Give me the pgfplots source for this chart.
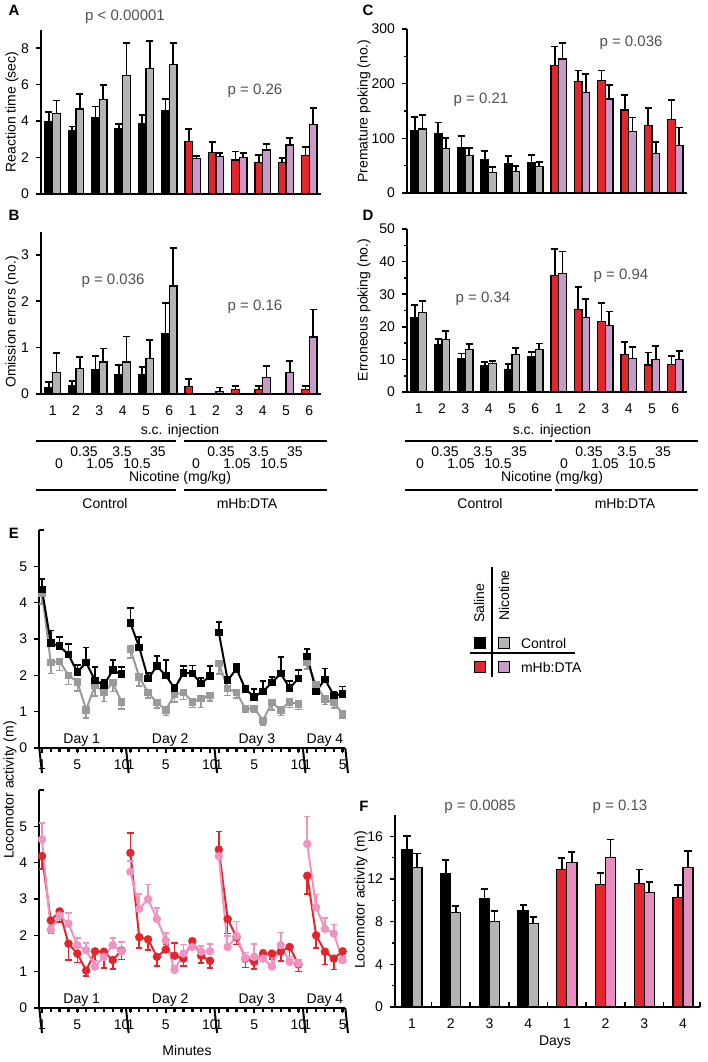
\documentclass[border=0pt]{standalone}
\usepackage{fontspec}
\setmainfont{Liberation Sans}
\usepackage{pgfplots}
\usepackage{pgfplotstable}
\pgfplotsset{compat=1.18}

\definecolor{cred}{HTML}{E3262B}
\definecolor{clav}{HTML}{C99AC9}
\definecolor{cgrey}{HTML}{B4B4B4}
\definecolor{cpink}{HTML}{E98DC0}
\definecolor{lpink}{HTML}{F093C3}
\definecolor{lgrey}{HTML}{9A9A9A}
\definecolor{ptext}{HTML}{505050}

% bar panels: x = group, s/se = saline mean/error, n/ne = nicotine mean/error
\pgfplotstableread{
x s se n ne
1 3.97 0.55 4.43 0.70
2 3.48 0.22 4.67 0.82
3 4.21 0.59 5.20 0.79
4 3.57 0.28 6.50 1.78
5 3.88 0.46 6.87 1.54
6 4.58 0.62 7.09 1.19
7 2.88 0.69 1.96 0.13
8 2.29 0.55 2.05 0.18
9 1.87 0.46 2.01 0.22
10 1.74 0.40 2.42 0.33
11 1.74 0.22 2.69 0.37
12 2.11 0.45 3.83 0.91
}\tabA
\pgfplotstableread{
x s se n ne
1 0.14 0.12 0.47 0.41
2 0.19 0.09 0.55 0.25
3 0.53 0.29 0.69 0.29
4 0.42 0.20 0.69 0.55
5 0.42 0.16 0.76 0.40
6 1.30 0.66 2.33 0.82
7 0.17 0.15 nan 0
8 nan 0 0.06 0.08
9 0.09 0.08 nan 0
10 0.09 0.08 0.35 0.25
11 nan 0 0.46 0.25
12 0.09 0.08 1.23 0.59
}\tabB
\pgfplotstableread{
x s se n ne
1 115 24 117 26
2 109 20 82 18
3 83 21 68 14
4 61 16 38 10
5 54 14 39 10
6 56 13 48 9
7 233 35 245 29
8 204 20 184 34
9 206 18 172 26
10 152 28 113 25
11 124 32 72 22
12 134 36 87 33
}\tabC
\pgfplotstableread{
x s se n ne
1 22.8 3.9 24.5 3.5
2 14.4 1.9 16.2 2.6
3 10.1 1.7 13.1 1.6
4 8.1 1.2 8.8 0.8
5 7.0 1.5 11.6 2.0
6 10.8 1.4 13.1 1.8
7 35.7 8.1 36.3 6.8
8 25.4 6.7 22.8 5.7
9 21.6 5.6 20.4 4.3
10 11.6 3.8 10.3 3.4
11 8.3 3.8 10.0 4.2
12 8.5 2.6 10.0 2.6
}\tabD
\pgfplotstableread{
x s se n ne
1 14.8 1.2 13.05 1.35
2 12.5 1.3 8.85 0.65
3 10.2 0.9 8.0 1.0
4 9.03 0.5 7.85 0.6
5 12.9 1.1 13.55 0.95
6 11.5 1.1 14.0 1.7
7 11.6 1.3 10.75 1.0
8 10.28 1.15 13.05 1.55
}\tabF

% panel E: x = 10*(day-1) + (minute-1), nan rows break the line between days
\pgfplotstableread{
x y e
0 4.36 0.29
1 2.89 0.34
2 2.80 0.25
3 2.57 0.29
4 2.09 0.20
5 2.35 0.42
6 1.86 0.37
7 1.73 0.15
8 2.14 0.29
9 2.03 0.20
9.5 nan 0
10 3.44 0.42
11 2.77 0.28
12 1.91 0.15
13 2.25 0.29
14 2.00 0.43
15 1.64 0.10
16 2.07 0.18
17 2.05 0.22
18 1.78 0.15
19 1.98 0.27
19.5 nan 0
20 3.18 0.29
21 1.86 0.10
22 2.18 0.14
23 1.62 0.10
24 1.41 0.21
25 1.56 0.28
26 1.80 0.15
27 2.05 0.45
28 1.65 0.20
29 1.91 0.23
29.5 nan 0
30 2.52 0.21
31 1.56 0.10
32 1.89 0.30
33 1.45 0.10
34 1.48 0.21
}\tabEcs
\pgfplotstableread{
x y e
0 4.27 0.30
1 2.35 0.30
2 2.38 0.25
3 2.00 0.25
4 1.82 0.25
5 1.05 0.22
6 1.73 0.30
7 1.53 0.25
8 1.80 0.25
9 1.27 0.20
9.5 nan 0
10 2.73 0.25
11 1.95 0.25
12 1.53 0.15
13 1.25 0.15
14 1.05 0.15
15 1.47 0.20
16 1.53 0.20
17 1.27 0.15
18 1.36 0.25
19 1.45 0.15
19.5 nan 0
20 2.33 0.30
21 1.64 0.20
22 1.53 0.15
23 1.08 0.10
24 1.09 0.10
25 0.76 0.12
26 1.25 0.20
27 1.05 0.15
28 1.27 0.15
29 1.21 0.15
29.5 nan 0
30 2.37 0.20
31 1.73 0.15
32 1.35 0.15
33 1.25 0.15
34 0.95 0.12
}\tabEcn
\pgfplotstableread{
x y ep em
0 4.18 0 0.35
1 2.41 0 0.35
2 2.66 0 0.30
3 1.77 0 0.45
4 1.50 0 0.25
5 1.03 0 0.15
6 1.56 0 0.40
7 1.55 0 0.45
8 1.32 0 0.25
9 1.58 0 0.25
9.5 nan 0 0
10 4.27 0.55 0
11 1.95 0 0.30
12 1.89 0 0.30
13 1.41 0 0.25
14 1.61 0.15 0
15 1.44 0.35 0
16 1.36 0 0.20
17 1.84 0 0
18 1.44 0 0.20
19 1.30 0 0.20
19.5 nan 0 0
20 4.36 0.50 0
21 2.45 0 0.40
22 1.95 0 0.20
23 1.36 0 0.25
24 1.27 0 0.20
25 1.50 0 0.20
26 1.50 0 0.15
27 1.55 0 0.25
28 1.68 0 0.35
29 1.20 0 0.20
29.5 nan 0 0
30 3.64 0 0.50
31 2.00 0 0.35
32 1.55 0 0.35
33 1.36 0 0.30
34 1.56 0 0.30
}\tabEms
\pgfplotstableread{
x y e
0 4.64 0.45
1 2.15 0.10
2 2.55 0.10
3 2.32 0.30
4 1.73 0.20
5 1.59 0.20
6 1.14 0.15
7 1.41 0.20
8 1.73 0.20
9 1.56 0.25
9.5 nan 0
10 3.75 0.30
11 2.73 0.40
12 3.00 0.40
13 2.45 0.30
14 1.86 0.20
15 1.05 0.10
16 1.50 0.25
17 1.68 0.10
18 1.55 0.15
19 1.56 0.20
19.5 nan 0
20 4.18 0.20
21 1.68 0.30
22 1.98 0.40
23 1.38 0.15
24 1.41 0.35
25 1.36 0.25
26 1.14 0.25
27 1.73 0.35
28 1.27 0.15
29 1.23 0.10
29.5 nan 0
30 4.52 0.75
31 2.77 0.35
32 2.18 0.30
33 2.05 0.25
34 1.32 0.10
}\tabEmn

\tikzset{
  ptx/.style={font=\fontsize{7.5}{9}\selectfont, text=ptext},
  lab/.style={font=\fontsize{7}{8}\selectfont},
  plet/.style={font=\fontsize{7.5}{9}\selectfont\bfseries},
}
\pgfplotsset{
  panel/.style={scale only axis, anchor=south west, axis lines=left,
    axis line style={-, line width=1pt}, clip=false, axis on top,
    tick label style={font=\fontsize{7}{8}\selectfont},
    /pgf/number format/assume math mode=true,
    tick align=outside, major tick length=2.5pt, minor tick length=1.5pt,
    every tick/.style={black, line width=0.8pt}, ymin=0},
  barsAD/.style={panel, xmin=0.5, xmax=12.5, width=140pt, xtick=\empty},
  eb/.style={error bars/y dir=plus, error bars/y explicit,
    error bars/error bar style={line width=0.9pt, black, xshift=#1},
    error bars/error mark options={rotate=90, line width=0.9pt, mark size=1.8pt, black}},
  bs/.style={ybar, bar width=0.33, bar shift=-0.165, draw=black, line width=0.6pt, eb=-1.925pt},
  bn/.style={ybar, bar width=0.33, bar shift=0.165, draw=black, line width=0.6pt, eb=1.925pt},
  fs/.style={ybar, bar width=0.26, bar shift=-0.13, draw=black, line width=0.6pt, eb=-2.516pt},
  fn/.style={ybar, bar width=0.26, bar shift=0.13, draw=black, line width=0.6pt, eb=2.516pt},
  numx/.style={xtick={1,...,12}, xticklabels={1,2,3,4,5,6,1,2,3,4,5,6}, xtick style={draw=none}},
  eaxis/.style={panel, axis on top=false, width=153pt, height=109pt, xmin=-0.3, xmax=34.3, ymax=6,
    ytick={0,...,5}, extra y ticks={6}, extra y tick labels={},
    extra y tick style={tick align=inside},
    xtick={0,4,9,10,14,19,20,24,29,30,34}, xticklabels={1,5,10,1,5,10,1,5,10,1,5},
    minor xtick={0,...,34}, minor tick length=2.2pt, minor x tick style={line width=1.2pt},
    unbounded coords=jump},
  eerr/.style={error bars/y explicit, error bars/error bar style={line width=0.8pt},
    error bars/error mark options={rotate=90, line width=0.8pt, mark size=1.6pt}},
}

\begin{document}
\begin{tikzpicture}
\path[use as bounding box] (0,0) rectangle (354pt,-531pt);

% ---------- A ----------
\begin{axis}[barsAD, at={(20.5pt,-97pt)}, height=82pt, ymax=9, ytick={0,2,4,6,8}]
\addplot[bs, fill=black, restrict x to domain=1:6] table[x=x, y=s, y error=se] {\tabA};
\addplot[bn, fill=cgrey, restrict x to domain=1:6] table[x=x, y=n, y error=ne] {\tabA};
\addplot[bs, fill=cred, restrict x to domain=7:12] table[x=x, y=s, y error=se] {\tabA};
\addplot[bn, fill=clav, restrict x to domain=7:12] table[x=x, y=n, y error=ne] {\tabA};
\end{axis}
% ---------- B ----------
\begin{axis}[barsAD, numx, at={(20.5pt,-197pt)}, height=81.2pt, ymax=3.5, ytick={0,1,2,3}]
\addplot[bs, fill=black, restrict x to domain=1:6] table[x=x, y=s, y error=se] {\tabB};
\addplot[bn, fill=cgrey, restrict x to domain=1:6] table[x=x, y=n, y error=ne] {\tabB};
\addplot[bs, fill=cred, restrict x to domain=7:12] table[x=x, y=s, y error=se] {\tabB};
\addplot[bn, fill=clav, restrict x to domain=7:12] table[x=x, y=n, y error=ne] {\tabB};
\end{axis}
% ---------- C ----------
\begin{axis}[barsAD, at={(203.5pt,-96.5pt)}, height=82pt, ymax=300, ytick={0,100,200,300}, minor y tick num=1]
\addplot[bs, fill=black, restrict x to domain=1:6] table[x=x, y=s, y error=se] {\tabC};
\addplot[bn, fill=cgrey, restrict x to domain=1:6] table[x=x, y=n, y error=ne] {\tabC};
\addplot[bs, fill=cred, restrict x to domain=7:12] table[x=x, y=s, y error=se] {\tabC};
\addplot[bn, fill=clav, restrict x to domain=7:12] table[x=x, y=n, y error=ne] {\tabC};
\end{axis}
% ---------- D ----------
\begin{axis}[barsAD, numx, at={(203.5pt,-196pt)}, height=81.5pt, ymax=50, ytick={0,10,...,50}, minor y tick num=1]
\addplot[bs, fill=black, restrict x to domain=1:6] table[x=x, y=s, y error=se] {\tabD};
\addplot[bn, fill=cgrey, restrict x to domain=1:6] table[x=x, y=n, y error=ne] {\tabD};
\addplot[bs, fill=cred, restrict x to domain=7:12] table[x=x, y=s, y error=se] {\tabD};
\addplot[bn, fill=clav, restrict x to domain=7:12] table[x=x, y=n, y error=ne] {\tabD};
\end{axis}

% labels of A-D
\node[plet] at (7pt,-5pt) {A};
\node[plet] at (7pt,-107.5pt) {B};
\node[plet] at (184pt,-5pt) {C};
\node[plet] at (184pt,-107.5pt) {D};
\node[lab, rotate=90] at (6pt,-56pt) {Reaction time (sec)};
\node[lab, rotate=90] at (6pt,-161pt) {Omission errors (no.)};
\node[lab, rotate=90] at (182pt,-55.5pt) {Premature poking (no.)};
\node[lab, rotate=90] at (182pt,-155pt) {Erroneous poking (no.)};
\node[ptx] at (62.5pt,-8.5pt) {p < 0.00001};
\node[ptx] at (127.5pt,-45.5pt) {p = 0.26};
\node[ptx] at (56.5pt,-140.5pt) {p = 0.036};
\node[ptx] at (127.5pt,-153.5pt) {p = 0.16};
\node[ptx] at (240.5pt,-50pt) {p = 0.21};
\node[ptx] at (315.5pt,-21.5pt) {p = 0.036};
\node[ptx] at (241.5pt,-149.5pt) {p = 0.34};
\node[ptx] at (310.5pt,-138pt) {p = 0.94};

% injection / dose annotation
\foreach \cx in {90, 276}{
  \node[lab] at (\cx pt,-215.5pt) {s.c. injection};
  \node[lab] at (\cx pt,-239pt) {Nicotine (mg/kg)};
}
\foreach \xa/\xb in {18/88, 92/163.5, 202.5/276, 277.5/349}{
  \draw[line width=1pt] (\xa pt,-220.5pt) -- (\xb pt,-220.5pt);
  \draw[line width=1pt] (\xa pt,-245pt) -- (\xb pt,-245pt);
}
\foreach \o in {0, 68.5, 180.5, 252.5}{
  \node[lab] at (\o pt+29.5pt,-232pt) {0};
  \node[lab] at (\o pt+42pt,-226pt) {0.35};
  \node[lab] at (\o pt+50pt,-232pt) {1.05};
  \node[lab] at (\o pt+61pt,-226pt) {3.5};
  \node[lab] at (\o pt+68.5pt,-232pt) {10.5};
  \node[lab] at (\o pt+79pt,-226pt) {35};
}
\node[lab] at (52.5pt,-251.5pt) {Control};
\node[lab] at (123.5pt,-251.5pt) {mHb:DTA};
\node[lab] at (240pt,-251.5pt) {Control};
\node[lab] at (312.5pt,-251.5pt) {mHb:DTA};

% ---------- E top ----------
\begin{axis}[eaxis, at={(19.65pt,-374pt)}]
\addplot[lgrey, line width=1pt, mark=square*, mark size=1.4pt, eerr, error bars/y dir=minus]
  table[x=x, y=y, y error=e] {\tabEcn};
\addplot[black, line width=1pt, mark=square*, mark size=1.4pt, eerr, error bars/y dir=plus]
  table[x=x, y=y, y error=e] {\tabEcs};
\foreach \s in {-0.3,9.5,19.5,29.5,34.3}{
  \edef\tmp{\noexpand\draw[line width=1pt] (axis cs:\s,0) -- ++(0,-12.5pt);}\tmp
}
\node[lab, anchor=south, inner sep=0.5pt] at (axis cs:4.5,0) {Day 1};
\node[lab, anchor=south, inner sep=0.5pt] at (axis cs:14.5,0) {Day 2};
\node[lab, anchor=south, inner sep=0.5pt] at (axis cs:24.3,0) {Day 3};
\node[lab, anchor=south, inner sep=0.5pt] at (axis cs:32,0) {Day 4};
\end{axis}
% ---------- E bottom ----------
\begin{axis}[eaxis, at={(19.65pt,-504pt)}]
\addplot[cred, line width=1pt, mark=*, mark size=1.6pt, eerr, error bars/y dir=both]
  table[x=x, y=y, y error plus=ep, y error minus=em] {\tabEms};
\addplot[lpink, line width=1pt, mark=*, mark size=1.6pt, eerr, error bars/y dir=plus]
  table[x=x, y=y, y error=e] {\tabEmn};
\foreach \s in {-0.3,9.5,19.5,29.5,34.3}{
  \edef\tmp{\noexpand\draw[line width=1pt] (axis cs:\s,0) -- ++(0,-12.5pt);}\tmp
}
\node[lab, anchor=south, inner sep=0.5pt] at (axis cs:4.5,0) {Day 1};
\node[lab, anchor=south, inner sep=0.5pt] at (axis cs:14.5,0) {Day 2};
\node[lab, anchor=south, inner sep=0.5pt] at (axis cs:24.3,0) {Day 3};
\node[lab, anchor=south, inner sep=0.5pt] at (axis cs:32,0) {Day 4};
\end{axis}
\node[plet] at (7pt,-266.5pt) {E};
\node[lab, rotate=90] at (5pt,-395pt) {Locomotor activity (m)};
\node[lab] at (93.5pt,-525pt) {Minutes};

% ---------- legend ----------
\draw[line width=0.9pt] (246pt,-283.5pt) -- (246pt,-338.5pt);
\draw[line width=0.9pt] (235pt,-326.5pt) -- (287.5pt,-326.5pt);
\node[lab, rotate=90, anchor=west] at (239.5pt,-315pt) {Saline};
\node[lab, rotate=90, anchor=west] at (252pt,-314pt) {Nicotine};
\node[draw=black, line width=0.8pt, fill=black, minimum size=5.5pt, inner sep=0] at (240pt,-321.5pt) {};
\node[draw=black, line width=0.8pt, fill=cgrey, minimum size=5.5pt, inner sep=0] at (252pt,-321.5pt) {};
\node[draw=black, line width=0.8pt, fill=cred, minimum size=5.5pt, inner sep=0] at (240pt,-333.5pt) {};
\node[draw=black, line width=0.8pt, fill=clav, minimum size=5.5pt, inner sep=0] at (252pt,-333.5pt) {};
\node[lab, anchor=west] at (257pt,-321.5pt) {Control};
\node[lab, anchor=west] at (257pt,-333.5pt) {mHb:DTA};

% ---------- F ----------
\begin{axis}[panel, at={(197.5pt,-503.5pt)}, width=152.5pt, height=96pt,
  xmin=0.56, xmax=8.44, ymax=18, ytick={0,4,...,16}, minor y tick num=1,
  xtick={1,...,8}, xticklabels={1,2,3,4,1,2,3,4}, major x tick style={draw=none},
  extra x ticks={1.5,2.5,...,7.5,8.44}, extra x tick labels={},
  extra x tick style={tick align=inside, major x tick style={draw=black, line width=0.8pt}}]
\addplot[fs, fill=black, restrict x to domain=1:4] table[x=x, y=s, y error=se] {\tabF};
\addplot[fn, fill=cgrey, restrict x to domain=1:4] table[x=x, y=n, y error=ne] {\tabF};
\addplot[fs, fill=cred, restrict x to domain=5:8] table[x=x, y=s, y error=se] {\tabF};
\addplot[fn, fill=cpink, restrict x to domain=5:8] table[x=x, y=n, y error=ne] {\tabF};
\end{axis}
\node[plet] at (182pt,-403pt) {F};
\node[lab, rotate=90] at (180.5pt,-450pt) {Locomotor activity (m)};
\node[ptx] at (240pt,-403.5pt) {p = 0.0085};
\node[ptx] at (310pt,-403.5pt) {p = 0.13};
\node[lab] at (277.5pt,-521pt) {Days};
\end{tikzpicture}
\end{document}
